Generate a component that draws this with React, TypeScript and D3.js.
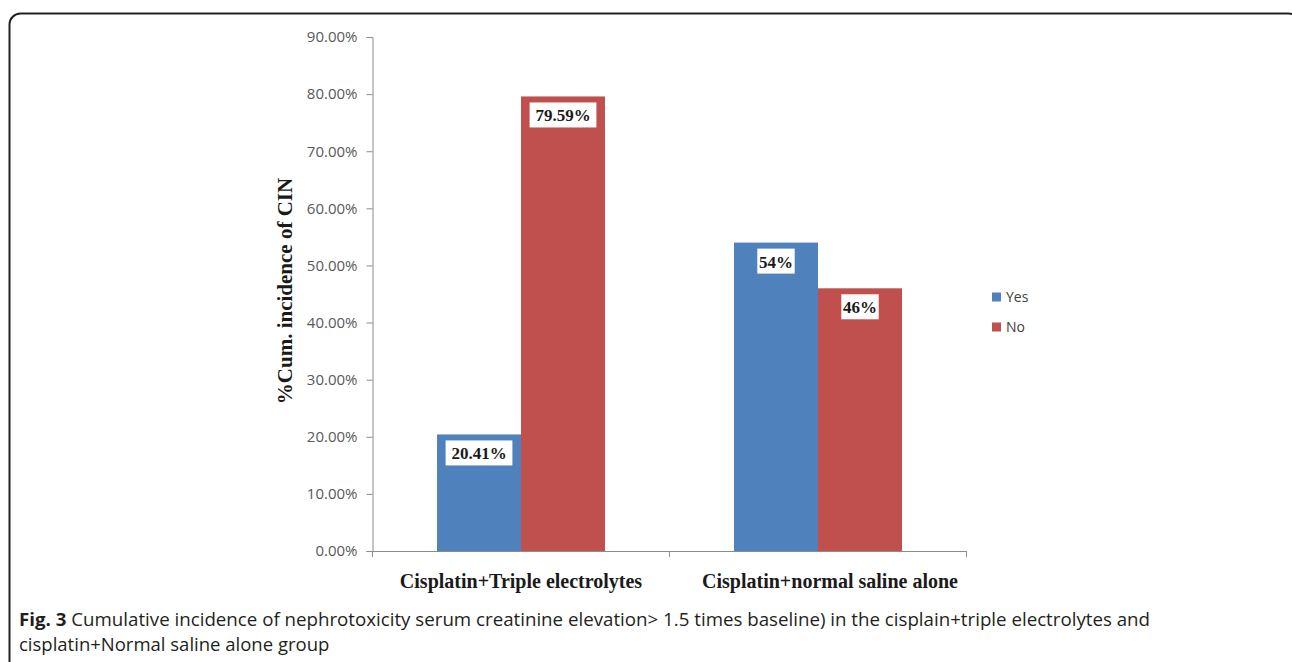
import React, { useEffect, useRef } from "react";
import * as d3 from "d3";

const categories = ["Cisplatin+Triple electrolytes", "Cisplatin+normal saline alone"];
const seriesNames = ["Yes", "No"];
const yesValues = [20.41, 54];
const noValues = [79.59, 46];
const valueLabels = [["20.41%", "54%"], ["79.59%", "46%"]];
const yTicks = [0, 10, 20, 30, 40, 50, 60, 70, 80, 90];
const colors = ["#4F81BD", "#C0504D"];
const captionLine1 =
  " Cumulative incidence of nephrotoxicity serum creatinine elevation> 1.5 times baseline) in the cisplain+triple electrolytes and";
const captionLine2 = "cisplatin+Normal saline alone group";

const App: React.FC = () => {
  const svgRef = useRef<SVGSVGElement | null>(null);

  useEffect(() => {
    if (!svgRef.current) return;
    const width = 1292;
    const height = 662;
    const svg = d3.select(svgRef.current);
    svg.selectAll("*").remove();
    svg.attr("width", width).attr("height", height);

    // frame
    svg.append("rect")
      .attr("x", 9.5).attr("y", 13.5)
      .attr("width", 1290).attr("height", 700)
      .attr("rx", 11)
      .attr("fill", "white")
      .attr("stroke", "#222").attr("stroke-width", 2);

    const plot = { left: 372.5, right: 966.5, top: 37, bottom: 551 };

    const y = d3.scaleLinear().domain([0, 90]).range([plot.bottom, plot.top]);
    const x0 = d3.scaleBand<string>()
      .domain(categories)
      .range([plot.left, plot.right])
      .paddingInner(129 / 297)
      .paddingOuter(129 / 297 / 2);
    const x1 = d3.scaleBand<string>().domain(seriesNames).range([0, x0.bandwidth()]);

    const serif = "'Liberation Serif', 'Times New Roman', serif";
    const sans = "'Open Sans', 'Noto Sans', sans-serif";

    // y axis
    const yAxis = svg.append("g").attr("transform", `translate(${plot.left},0)`)
      .call(d3.axisLeft(y).tickValues(yTicks).tickSize(6).tickPadding(9)
        .tickFormat((d) => `${(d as number).toFixed(2)}%`));
    yAxis.select(".domain").attr("stroke", "#8c8c8c");
    yAxis.selectAll(".tick line").attr("stroke", "#8c8c8c");
    yAxis.selectAll(".tick text")
      .attr("fill", "#595959")
      .style("font-family", sans)
      .style("font-size", "15px");

    // x axis
    const xAxisG = svg.append("g").attr("transform", `translate(0,${plot.bottom})`);
    xAxisG.append("line")
      .attr("x1", plot.left).attr("x2", plot.right)
      .attr("y1", 0.5).attr("y2", 0.5)
      .attr("stroke", "#8c8c8c");
    const step = x0.step();
    [0, 1, 2].forEach((i) => {
      const tx = plot.left + i * step;
      xAxisG.append("line")
        .attr("x1", tx).attr("x2", tx).attr("y1", 0).attr("y2", 6)
        .attr("stroke", "#8c8c8c");
    });
    xAxisG.selectAll("text.cat")
      .data(categories)
      .enter()
      .append("text")
      .attr("class", "cat")
      .attr("x", (d, i) => (x0(d) ?? 0) + x0.bandwidth() / 2 + (i === 1 ? 12 : 0))
      .attr("y", 37)
      .attr("text-anchor", "middle")
      .style("font-family", serif)
      .style("font-weight", "bold")
      .style("font-size", "20px")
      .attr("fill", "#1a1a1a")
      .text((d) => d);

    // y title
    svg.append("text")
      .attr("transform", `translate(292,291) rotate(-90)`)
      .attr("text-anchor", "middle")
      .style("font-family", serif)
      .style("font-weight", "bold")
      .style("font-size", "21px")
      .attr("fill", "#1a1a1a")
      .text("%Cum. incidence of CIN");

    // bars
    const seriesValues = [yesValues, noValues];
    seriesNames.forEach((s, si) => {
      const g = svg.append("g");
      g.selectAll("rect")
        .data(categories)
        .enter()
        .append("rect")
        .attr("x", (c) => (x0(c) ?? 0) + (x1(s) ?? 0))
        .attr("y", (c, i) => y(seriesValues[si][i]))
        .attr("width", x1.bandwidth())
        .attr("height", (c, i) => plot.bottom - y(seriesValues[si][i]))
        .attr("fill", colors[si]);

      categories.forEach((c, i) => {
        const cx = (x0(c) ?? 0) + (x1(s) ?? 0) + x1.bandwidth() / 2;
        const top = y(seriesValues[si][i]);
        const label = valueLabels[si][i];
        const w = label.length * 9.8 + 8;
        g.append("rect")
          .attr("x", cx - w / 2).attr("y", top + 6)
          .attr("width", w).attr("height", 25)
          .attr("fill", "white");
        g.append("text")
          .attr("x", cx).attr("y", top + 25)
          .attr("text-anchor", "middle")
          .style("font-family", serif)
          .style("font-weight", "bold")
          .style("font-size", "17px")
          .attr("fill", "#1a1a1a")
          .text(label);
      });
    });

    // legend
    const legend = svg.append("g");
    seriesNames.forEach((s, i) => {
      const ly = 297 + i * 30;
      legend.append("rect")
        .attr("x", 992).attr("y", ly - 4.5)
        .attr("width", 9).attr("height", 9)
        .attr("fill", colors[i]);
      legend.append("text")
        .attr("x", 1006).attr("y", ly + 5)
        .style("font-family", sans)
        .style("font-size", "14px")
        .attr("fill", "#404040")
        .text(s);
    });

    // caption
    const cap = svg.append("text")
      .attr("x", 19).attr("y", 626)
      .attr("textLength", 1131)
      .attr("lengthAdjust", "spacingAndGlyphs")
      .style("font-family", sans)
      .style("font-size", "18.5px")
      .attr("fill", "#231f20");
    cap.append("tspan").style("font-weight", "bold").text("Fig. 3");
    cap.append("tspan").text(captionLine1);
    svg.append("text")
      .attr("x", 19).attr("y", 651)
      .style("font-family", sans)
      .style("font-size", "18.5px")
      .attr("fill", "#231f20")
      .text(captionLine2);
  }, []);

  return (
    <svg ref={svgRef} style={{ position: "absolute", left: 0, top: 0, display: "block" }} />
  );
};

export default App;
